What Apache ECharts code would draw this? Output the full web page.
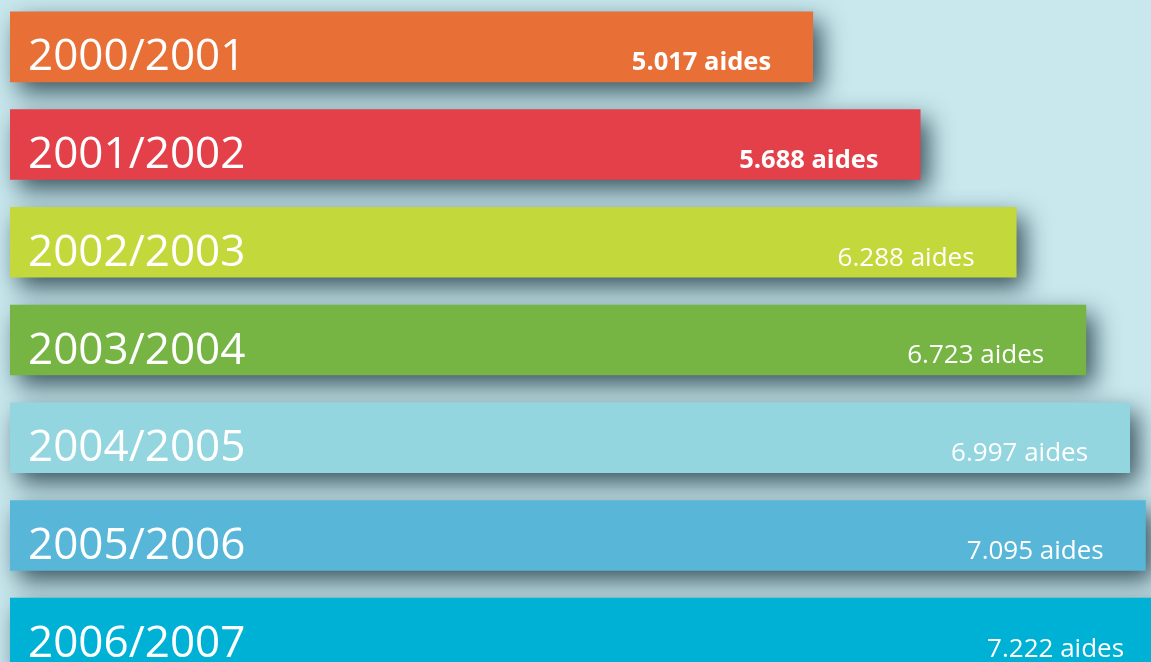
<!DOCTYPE html>
<html>
<head>
<meta charset="utf-8">
<style>
html,body{margin:0;padding:0;background:#c8e8ee;overflow:hidden;width:1151px;height:662px;position:relative;}
#chart{width:1200px;height:684px;position:absolute;left:0;top:-2px;}
</style>
<script src="https://cdn.jsdelivr.net/npm/echarts@6/dist/echarts.min.js"></script>
</head>
<body>
<div id="chart"></div>
<script>
const categories = ['2000/2001','2001/2002','2002/2003','2003/2004','2004/2005','2005/2006','2006/2007'];
const aides = [5017, 5688, 6288, 6723, 6997, 7095, 7222];
const palette = ['#e87036','#e4404a','#c3d83a','#76b543','#93d6df','#58b6d9','#00b1d6'];
const boldLabels = [true, true, false, false, false, false, false];

function fmt(v){ return String(v).replace(/\B(?=(\d{3})+(?!\d))/g, '.'); }

const chart = echarts.init(document.getElementById('chart'), null, {renderer:'canvas'});
chart.setOption({
  backgroundColor: '#c8e8ee',
  animation: false,
  grid: {left: 10, right: 0, top: 0, bottom: 0, containLabel: false},
  xAxis: {type: 'value', min: 0, max: 7434, show: false},
  yAxis: {type: 'category', data: categories, inverse: true, show: false},
  series: [
    {
      type: 'bar',
      data: aides,
      barWidth: 70.6,
      itemStyle: {
        color: p => palette[p.dataIndex],
        shadowBlur: 24,
        shadowOffsetX: 8,
        shadowOffsetY: 10,
        shadowColor: 'rgba(20,45,55,0.8)'
      },
      label: {
        show: true,
        position: 'insideRight',
        distance: 42,
        offset: [0, 16],
        formatter: p => boldLabels[p.dataIndex] ? '{b|' + fmt(p.value) + ' aides}' : '{n|' + fmt(p.value) + ' aides}',
        rich: {
          b: {color: '#fff', fontFamily: 'Open Sans', fontWeight: 'bold', fontSize: 25.5},
          n: {color: '#fff', fontFamily: 'Open Sans', fontWeight: 'normal', fontSize: 26}
        }
      }
    },
    {
      type: 'bar',
      data: aides,
      barWidth: 70.6,
      barGap: '-100%',
      silent: true,
      itemStyle: {color: 'rgba(0,0,0,0)'},
      label: {
        show: true,
        position: 'insideLeft',
        distance: 18,
        offset: [0, 11],
        formatter: '{b}',
        color: '#fff',
        fontFamily: 'Open Sans',
        fontSize: 44
      }
    }
  ]
});
</script>
</body>
</html>
